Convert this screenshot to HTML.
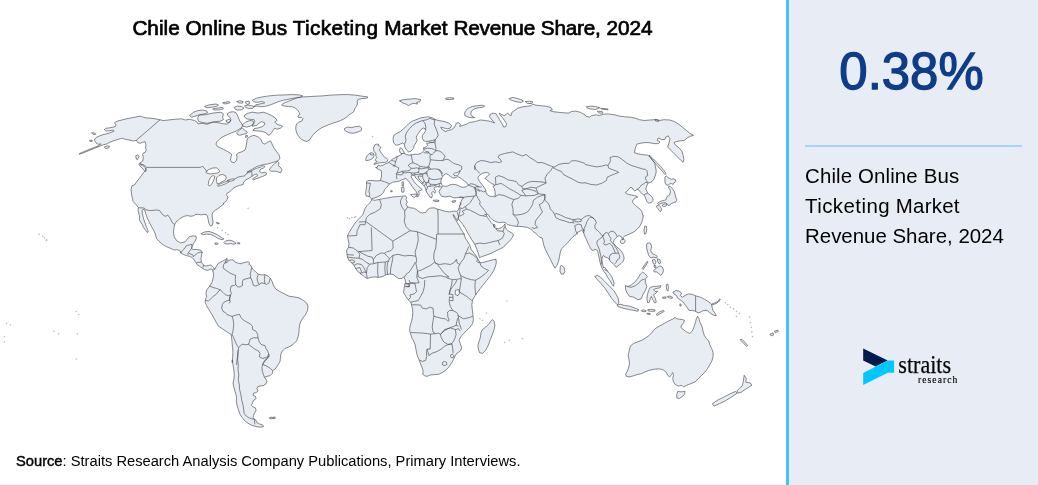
<!DOCTYPE html>
<html><head><meta charset="utf-8">
<style>
html,body{margin:0;padding:0;background:#fff;}
body{width:1038px;height:485px;position:relative;overflow:hidden;font-family:"Liberation Sans",sans-serif;color:#000;}
#left{position:absolute;left:0;top:0;width:786px;height:485px;background:#fff;}
#title{will-change:transform;position:absolute;left:0;top:15.8px;width:785px;text-align:center;font-size:20.77px;line-height:24px;white-space:nowrap;-webkit-text-stroke:0.7px #000;}
#src{will-change:transform;position:absolute;left:16px;top:452.3px;font-size:14.7px;line-height:18px;white-space:nowrap;}
#src b{font-weight:normal;-webkit-text-stroke:0.4px #000;}
#panel{position:absolute;left:786px;top:0;width:249px;height:485px;background:#e8edf5;border-left:3px solid #40c4ff;}
#big{will-change:transform;position:absolute;left:-2px;top:43.2px;width:249px;text-align:center;font-size:50.9px;line-height:58px;color:#0d3c8a;-webkit-text-stroke:1.3px #0d3c8a;}
#hr{position:absolute;left:16px;top:145px;width:217px;height:2px;background:#9fd8f7;}
#desc{will-change:transform;position:absolute;left:16px;top:160.5px;font-size:20.45px;line-height:30px;color:#000;}
#map{position:absolute;left:0;top:0;}
#logo{position:absolute;left:0;top:0;}
</style></head><body>
<div id="left">
<svg id="map" width="786" height="485" viewBox="0 0 786 485"><!--MAP--><path d="M159.9,119.9 155.8,118.9 150.9,118.2 145.9,117.9 142.6,116.9 140.1,116.2 136,116.9 131.1,117.9 126.1,118.9 121.2,120.2 117,121.2 114.6,122.8 115.9,124.8 115.4,126.5 113.2,127.1 109.6,127.8 105.5,128.4 104.3,129.8 106,131.1 109.6,130.7 113.2,130.1 114.2,131.1 111.3,132.4 107.1,133.7 103,134.7 99.4,136 96.4,137.3 94.8,139 94.4,140.6 95.7,142 96.4,143.3 98.4,144.3 101,143.9 98.9,145.6 93.1,147.9 86.5,150.5 79.6,153.5 79.1,154.2 82.4,153.2 88.2,150.9 94.8,148.2 100.5,145.9 103.8,144.6 107.1,143.9 109.6,142.3 113.2,141 117,139.7 120.3,138.7 122.5,138.3 125.3,139.3 127.8,139.7 131.1,140.3 133.5,141 136.3,140.3 137.7,142.6 140.1,143.3 142.6,142.3 145.1,141.6 145.9,144.6 145.6,147.9 146.2,150.4 145.1,152.5 143.4,152.9 142.6,154.5 143.4,157.8 142.6,161.1 140.1,162.8 141,165.1 143.4,164.7 146.7,167.4 145.6,170.2 143.4,172.7 141.8,175.1 139.3,178.4 136.8,181.7 134.4,185 131.9,185.7 131.1,189.9 131.5,194 132.3,198.1 133.1,201.4 134.8,203.4 136.4,205 138.4,207.7 138.1,210.5 138.9,213.8 139.7,217.1 139.4,219.6 140.5,222 142.2,224.5 143.8,227.8 145.5,230.3 147.1,232.4 148.3,231.9 147.6,229.5 146.3,226.5 145,222.9 143.8,219.6 143,216.3 142.3,213.3 142.2,210.5 143,209.3 144.7,210 145.5,213 146.6,216.3 148,219.6 149.6,222.9 151.3,226.2 153.2,229.5 154.9,232.8 155.9,236.1 156.5,238.5 158.7,241 161.5,243.5 164.5,245.6 167.8,247.3 171.1,248.6 174.4,250.1 176.8,249.6 179.3,250.6 181.8,252.2 179.9,252.3 183.2,254.4 186.5,255.6 189.8,256.4 192.3,257.7 193.9,259.7 195.6,262.2 197.2,264.7 199.7,266.3 202.2,268.3 204.7,269.6 207.1,270.4 209.6,269.6 211.3,268.8 212.6,270.4 213.2,272.1 213.7,275.4 212.9,278.7 212.1,282 210.4,285.3 208.3,287.8 206.6,290.2 206,293.5 206.6,296.8 205.5,299.3 205.2,302.3 206.5,305.6 209,309.8 211.5,313.9 213.9,318 216.1,322.1 218.1,325.9 222.2,328.7 227.1,332 231.3,334.5 231.6,337.8 232.1,342.8 232.6,347.7 232.9,352.7 232.6,357.6 232.2,362.6 232.3,359.9 233,364.9 233.8,369.8 234.3,374.8 233.8,379.7 233,383 233.8,387.1 235,391.3 236,394.6 236.6,397.9 236.3,401.2 237.1,405.3 238.3,409.4 239.6,413.5 241.6,416.8 244.2,420.1 247,422.6 250.3,424.6 253.6,425.9 256.9,426.7 260.2,427.2 263.5,426.7 262.7,425.1 259.4,423.9 256.9,422.6 255.8,420.1 254.1,419.3 253.1,417.7 253.6,415.2 254.8,412.7 256.1,410.2 255.3,407.8 253.1,406.9 251.5,405.3 252.5,402.8 253.6,400.3 256.1,398.7 255.3,396.2 253.1,395.4 253.6,393.2 256.1,392.6 258.1,390.9 256.9,388.8 257.8,386.6 260.2,386 263.5,385.5 266,383.8 266.8,381.4 265.7,378.9 264.4,377.2 266.8,376.4 270.1,375.6 272.6,373.1 272.6,370.6 275.1,369 277.6,365.7 280,361.6 280.4,358.4 280.8,354.3 282.4,351 284.9,348.5 289,346.9 293.1,344.4 296.4,341.1 298.1,337 298.9,332.9 299.2,328.7 299.7,324.6 300.9,321.3 303,318 305.5,314.7 307.5,310.6 308,306.5 306.8,303.2 303.9,300.7 298.9,297.9 294,296.9 289,296.2 284.9,294.1 279.9,291.6 275.8,289.1 273.3,285 272,281.2 270.3,278.2 268.2,276.2 264.9,274.6 261.6,274.9 258.3,274.2 255.8,272.1 253.3,269.6 251.7,267.6 250.9,265.5 248.9,264.3 249.5,263 248.4,261.7 245.9,262.2 242.6,263 240.1,263.8 237.7,263 235.2,262.2 233.5,260 231.1,259.7 228.6,260.5 226.9,262.7 225.3,263 226.1,261.7 227.8,259.7 226.9,258.4 225.3,259.7 222.8,261 220.3,262.2 217.9,263.8 215.9,267.1 214.6,269.6 213.7,267.6 212.1,266 210.4,265 208.3,265.5 205.5,266 203,264.7 201.4,262.2 201,258.9 201.4,255.6 202.2,252.3 200.5,250.1 197.2,249.5 193.1,249.5 191.5,248.5 192.3,246.5 193.1,244 194.8,241.6 196.4,238.3 196.1,236.3 193.1,235.8 189.5,236.6 187.3,239.1 184.9,241.9 180.7,242.9 176.6,240.7 174.1,236.6 173.5,231.9 174,227.8 174.7,224.5 176,222 178.5,219.9 181,217.9 184.3,216.3 187.6,215.6 190.9,216.3 194.2,215.6 195,214.6 197.5,214.3 200.8,214.9 204.1,214.3 206.5,214.6 207.4,216.3 208.2,219.6 209,223.7 210.7,226.2 212.3,225.3 213.1,222 212.3,217.9 212,214.6 213.1,212.1 215.6,210 219.7,207.2 223.9,203.9 223,203.6 225.5,201.9 227.1,199.5 228,197 226.6,195.3 227.1,193.2 229.3,192 231.3,190.4 233.2,188.2 236.2,186.6 239.5,185.4 243.1,184.6 243.6,182.1 246.1,179.7 249.4,178 251.9,176.4 254.4,174.7 256.8,173.9 257.7,175.5 255.2,177.2 252.4,178.8 253.5,180 256,178.8 259.3,177.7 262.6,176.4 265.9,175 266.7,173.1 264.3,172.2 261.8,173.1 259.3,171.4 261,168.9 263.4,168.1 265.1,166.5 262.6,165.6 260.1,167.3 256,168.4 251.9,170.6 246.9,172.2 251.1,169.8 256.8,166.5 263.4,164.5 267.6,164 271.7,162.8 275.8,161.5 278.3,160.7 279.9,158.2 279.1,154.9 276.6,151.6 274.2,148.3 272.5,145 270.5,140.8 268.1,141.9 264.8,144.1 262.3,142.8 261.1,139.5 258.2,137 254,135.3 250.2,136.5 247.4,138.6 246,146.9 244.9,150.2 241.6,151.8 238.3,153 236.6,154.3 237.1,157.6 236.1,160.9 234.2,162.6 231.7,162.2 230.5,160.1 230.9,157.6 231.7,154.3 230,153 226.7,151 223.4,149.4 220.1,147.7 217.3,146.4 216,144.1 216.8,141.9 220.1,138.6 223.4,136.5 227.6,134.5 231.7,132.9 235.8,131.2 239.1,129.2 242.2,127.2 242.4,125.3 241.3,123.1 239.7,120.9 238.6,118.2 237.5,115.5 235.9,112.7 233.1,111.7 229.9,112.2 227.1,113.8 227.7,115.5 229.9,117.1 231,119.8 229.3,122.6 227.1,124.2 222.8,123.7 217.7,122.6 212.7,122.1 206.9,124.3 202.8,123.3 197.9,123.8 197,122.1 194.6,120.5 189.6,119.3 185.5,120 181.4,118.8 174.8,119.3 168.2,120 163.2,120.6 159.9,119.7ZM139.3,163.6 142.6,164.7 145.1,167.7 146.2,171 145.1,171.8 142.6,168.5 140.1,166.1 139,164.4ZM200.8,233.6 204.9,231.9 209,231.4 213.1,232.8 217.3,234.7 221.4,237.4 223.9,239 222.2,239.7 218.1,238.5 214.8,236.4 210.7,234.4 206.5,234.1 202.4,234.7ZM223.9,242.7 225.5,241 228.8,240.2 232.1,240.7 234.6,242.3 236.2,243.5 233.8,244.3 230.5,243.6 227.2,244 224.7,243.6ZM214.8,243.2 216.9,242.8 218.3,243.8 216.4,244.5 215,244.1ZM237.6,242.8 239.7,242.8 239.9,243.8 237.7,243.8ZM216.4,222.5 218.9,222.9 219.2,223.8 216.9,223.7ZM269.2,169.8 271.7,166.5 275,163.2 277.5,161.5 279.1,162.8 278.3,165.6 280.4,167.3 282.1,169.8 280.8,172.7 278.3,172.2 275.8,171.1 273.3,171.4 270.9,171.1ZM189.6,115.5 193.7,112.2 197.9,110.6 202.8,110.1 206.9,111.1 207.8,112.7 204.5,113.9 199.5,114.7 194.6,116.4 191.3,117.2ZM197.9,117.2 199.5,115 206.1,114.7 211.1,113.4 216,112.7 221,112.2 223.4,113.9 222.6,117.2 223.4,119.7 220.1,121.3 215.2,121.6 211.1,122.6 206.9,123.3 202.8,122.6 198.7,121.6 197.9,119.7ZM204.5,106.5 209.4,104.8 216,104 218.5,105.1 216,106.5 211.1,107.3 206.9,107.8ZM212.7,108.9 217.7,108.1 222.6,107.3 223.4,108.9 219.3,109.8 214.4,110.1ZM222.6,102.8 229.2,101.5 230,102.8 225.1,104ZM225.9,120.5 229.2,119.3 230.9,120.5 229.2,122.6 226.7,122.1ZM234.2,107.3 237.5,106.1 241.6,106.5 244.1,108.1 241.6,109.8 237.5,110.1 235,108.9ZM236.6,101.5 239.9,100.7 243.2,101.5 242.4,103.2 238.3,102.8ZM245.7,101.5 249,101.2 249.8,103.5 247.4,104.5 245.7,103.2ZM236.6,132.9 239.9,129.6 242.4,128.2 244.9,130.4 247.4,132 246.5,133.7 243.2,134.2 239.9,135.3 237.5,134.5ZM245.4,135.8 247.4,135.3 247.4,137 245.7,137.5ZM244.1,115.5 247.4,113.4 252.4,112.2 258.2,113.1 263.1,112.2 267.2,113.4 271.4,115.5 275.5,118 277.1,120.5 274.7,122.1 277.1,124.3 280.4,125.4 282.6,126.3 280.4,128.2 277.1,129.2 274.7,128.2 273,130.4 271.4,132.9 269.4,135.3 267.2,134.5 266.4,132.9 263.9,132 260.6,131.2 256.5,130.9 252.9,130.4 254,128.7 258.2,127.9 262.3,126.6 264.8,124.6 264.4,122.6 261.5,121.6 258.2,123.8 256.5,125.4 252.4,126.3 252.9,123.8 254.9,121.6 254,119.7 249.9,119.3 246.6,118.8 244.6,117.2ZM242.4,124.6 245.7,122.1 249.8,120.5 253.1,121 254,123.8 250.7,125.9 246.5,127.1 243.2,126.3ZM252.4,100.2 256.5,98.2 262.3,96.9 268.9,95.9 276.3,95.2 284.6,94.9 292.8,94.6 299.4,94.9 302.7,95.9 300.2,97.2 295.3,97.9 289.5,99 283.7,100.2 278.8,101.5 274.7,103.2 270.5,104.8 266.4,106.1 261.5,106.8 257.3,106.1 254,106.5 255.7,104.8 259.8,104 264.8,102.8 262.3,101.5 257.3,102.3 254,101.8ZM282.9,103.5 287.9,101.5 292.8,99.5 296.9,97.9 302.7,96.9 309.3,96.6 315.9,96.2 322.5,95.9 329.1,95.2 335.7,94.9 342.3,94.6 348.9,94.6 355.5,95.2 362.1,96.2 367.9,96.9 367.1,98.2 362.1,98.5 358,99.5 357.2,101.5 357.5,104 356.3,106.5 354.7,108.9 353.9,111.4 351.4,113.4 348.9,115 346.4,117.2 344,118.8 340.7,120.5 336.5,122.1 332.4,123.3 328.3,124.9 324.2,126.6 320.9,128.2 317.6,130.4 315.1,132.9 312.6,135.3 311,137.8 309.3,140.3 306.8,141.4 304,140.8 301.4,139.1 299.1,137 297.4,134.5 296.4,132 295.8,129.2 295.8,126.3 296.9,123.8 298.6,122.1 301.9,121 303,118.8 301.4,117.2 298.6,117.7 297.8,116 299.7,114.7 299.1,112.2 297.4,109.8 295.3,108.1 292.5,106.8 288.7,106.5 284.6,106.1 281.6,105.1ZM344.3,128.7 347.3,127.1 351.4,127.6 355.5,126.6 359.6,126.3 361.8,128.2 361.3,130.4 358,132 353.9,133.2 349.7,132.9 346.4,131.5 344.8,130.4ZM269.3,417.7 271.8,417 272.6,418.3 270.1,419ZM272.6,417.3 275.1,417 275.2,418.3 272.9,418.6ZM396.1,145.3 393.6,142.9 393.1,138.7 393.6,135.4 396.9,133.3 400.2,131.6 403.5,128.8 406,126.4 408.5,123.9 411.8,121.4 415.9,119.8 420,118.1 424.2,117.3 428.3,116.8 432.4,117.8 434.9,119.4 439,120.6 444,121.4 448.9,123.1 451.4,125.5 450.6,128 447.3,128.8 444,128 440.7,127.2 442.3,129.7 445.6,131.6 448.1,130.5 451.4,129.7 453.9,128 455.5,125.5 456.3,123.1 458.8,122.7 460.5,124.7 459.6,126.4 462.9,125.5 467.1,123.9 470,122.2 471.5,122.2 475.6,121.4 480.6,120 485.5,120.5 490.5,121.4 494.6,123 492.1,120 489.7,117.2 490,114.4 493,113.1 496.3,113.9 497.6,116.4 499.6,119.7 502,123.8 503.7,127.1 505.8,126.6 506.5,123.8 504.5,120.5 502,117.2 499.6,114.4 499.2,113.1 502,114.8 504.5,115.6 507.5,113.1 509.5,114.8 511.1,115.6 511.9,112.3 514.4,110.6 517.7,108.2 522.7,106.8 527.6,106.2 531.2,105.7 532.6,104 535.9,105.2 540.8,105.7 545.8,106.2 550.7,107.3 552.4,109.5 549.9,110.6 554,111.8 559,112.3 563.9,112.8 568.9,113.1 571.3,111.5 575.5,111.1 580.4,112.3 585,114.8 585.7,116.1 589.9,117.2 591.5,115.6 596.5,114.8 599.8,115.6 602.2,114.4 608,113.9 614.6,114.8 619.6,116.1 624.5,116.7 630.3,117.2 635.2,118.1 639.4,119.7 644.3,120.5 650.1,120 655,119.7 659.2,120.5 664.1,119.7 669.9,120 674,121.4 678.1,123.8 682.3,127.1 686.4,130.4 689.7,133.2 693.5,135.4 690.5,136.2 687.2,137.9 684.7,140.3 680.6,140.8 676.5,141.5 674,142.5 675.7,145.3 679,147.8 681.9,151.1 683.1,155.2 683.9,159.3 683.1,162.3 680.6,160.1 677.3,156.8 674,153.5 670.7,150.2 667.7,146.9 669.1,142.8 669.9,138.7 668.2,135.9 665.8,137 664.9,139.5 661.6,139.5 658.3,137.9 657.2,140.3 660,142 658.3,143.6 654.2,143.6 650.1,142.8 646,142.5 641,143.1 636.9,144.1 635.2,148.6 634.4,152.7 638.5,154 643.5,154.7 647.6,155.2 650.1,156.8 652.6,160.1 655,163.4 655,164.9 656.1,170 656.1,172.8 655.1,176 653.8,179.3 651.9,181.6 649.9,182.5 648,183 647.3,184.8 646.2,187.2 645.9,189 646.8,191.2 647.7,193.2 650,195 652.4,197.4 653.3,200.1 651.4,202.5 648.7,203.2 646.8,201.5 645.6,198.3 644.5,195.5 642.6,194.3 641.2,192.7 639.8,191.5 638.5,189.9 637.1,189.5 634.7,190.9 633.3,189.9 632.4,188.1 631,187.2 629.2,188.6 627.3,190.9 625.5,192.3 626.4,193.7 628.7,194.6 631.5,194.9 634.3,195.5 637.1,196.4 637.5,197.4 635.7,197.8 633.8,199.2 632.4,201.1 633.3,203.4 635.7,205.7 638,207.6 640.3,209.4 641.7,211.3 642.4,213.6 642.6,215 643.3,215 642.9,218.3 641.8,222.1 640,225.9 637.2,229.2 634,231.9 630.1,233.8 626.9,235.2 624.1,236.3 623.1,237.4 623.6,239 622.5,239.6 621.4,236.8 619.2,235.7 617.6,236.3 615.4,238.5 613.8,240.7 613.2,242.8 614.9,245 617,247.2 619.8,249.4 622,252.1 623.6,255.4 624.1,258.7 623.1,261.4 620.9,263.6 618.1,265.8 616,267.4 614.9,265.8 613.2,263.6 611.6,262.5 609.9,260.9 608.9,258.7 607.2,257.6 605,257 603.6,255.4 602.3,257 601.8,259.8 602.3,263.1 603.2,266.3 603.6,268 604.5,267 607,270.3 609.5,273.6 611.9,276.9 613.1,280.2 614.1,283.5 613.6,286.3 611.9,284.3 610.3,281 607.8,277.7 606.2,274.4 603.7,271.1 601.5,267 600.7,264.7 599.9,261.4 599.2,258.1 598.5,254.9 597.7,251.6 596.8,249.9 595.2,249.4 593,250.5 591.4,249.7 589.7,246.7 588.1,243.4 586.5,239.6 584.8,236.3 584,233.6 583.2,231.4 581.6,230.3 579.4,231.4 577.2,232.5 576.1,234.7 575,235.2 574.8,235.1 572.3,237.3 569.9,240.1 566.9,243.4 564.1,246.4 561.6,248.8 560.3,252.1 559.6,256.3 558.6,261.2 557,265.3 555,268.1 552.9,264.5 550.5,259.6 548,254.6 545.5,249.7 543.9,245.5 543,241.4 542.2,238.1 539.7,237.3 538.1,235.6 535.6,233.2 533.1,231.5 530.7,229 527.4,227.4 522.4,226.6 520,226.4 516,226.4 511.7,225.6 507.4,224.6 505.5,222.7 503.1,222.1 499.4,222.7 495.6,221.5 492.6,219.9 490.1,217.4 488.2,214.7 487.6,214.1 486.4,214.7 486.4,215.3 487.6,217.8 489.5,220.2 491.3,222.7 493.2,224.6 493.8,226.4 495.6,228.3 498.1,228.9 501.2,227.7 503.7,225.8 504.9,223.9 505.3,226.4 506.2,228.9 508,230.7 511.1,232.6 513.6,234.5 512.3,237.6 509.9,240.6 507.4,243.1 505.5,245 503.4,247.2 499.3,249.3 495.2,251.3 491.1,253.3 486.9,254.9 482.8,256.3 479.5,257.6 478.7,254.6 477,249.7 475.2,245 474,243.1 471.5,239.4 469.4,235.7 467.2,232 465.3,228.3 462.9,224.6 460.4,221.5 458.3,219 458.5,216.5 458.1,218.4 457.6,220.9 456.7,219.9 455.5,217.8 453.8,215.3 453,214.4 453.8,216.9 455.5,219.6 457.3,222.7 459.8,227 462.3,231.4 464.1,234.5 465.3,238.2 467.8,241.9 469.7,245 471.3,249.7 474.2,253.3 477,257.1 478.2,259.6 479.5,262 481.2,262.9 484.5,262 488.6,260.9 492.7,259.9 496,259.2 496.3,262.9 495.2,267 493.5,271.1 490.2,276.1 486.9,280.2 483.6,284.3 480.3,288.4 477.9,291.7 475.4,295 475.1,295.7 472.6,299.8 471.8,304.8 472.3,309.7 472.9,314.7 473.4,319.6 472.6,323.7 470.1,327 466.8,330.3 463.5,333.6 460.7,336.9 459.1,340.2 460.2,343.5 461.4,346.8 461.4,349 459.7,351.5 456.9,353.2 455.3,355.6 453.6,359.4 451.5,363.1 448.7,367.2 445.4,370.5 442.1,372.6 438.8,374.3 434.7,374.6 430.5,374.9 427.2,376.3 424.8,375.9 422.8,374.3 423.1,371.3 422.3,368 420.6,363.9 419,359.8 417.3,355.6 416.2,350.7 415.2,344.9 413.2,340 412.4,339.4 411.6,336.9 410.2,332.8 409.6,329.5 410.2,325.4 411.6,321.3 412.4,317.1 412.9,313 412.4,308.9 411.6,304.8 410.7,302.3 408.3,299.8 405.8,296.5 403.6,292.4 404.1,288.3 405,283.3 405.6,282.7 405.1,279.4 403.5,276.9 401.8,278.5 398.5,278.5 396.1,276.9 393.6,274.7 390.3,274.1 386.2,274.7 382.9,276.4 378.7,277.4 374.6,276.9 370.5,277.4 367.2,278.5 364.7,276.9 361.4,274.4 358.1,271.9 355.6,268.6 354,265.3 351.5,262.9 349,260.4 347.4,257.1 346.9,253.8 346.6,250.5 348.5,247.2 349,243.9 348.2,239.8 347.4,236.1 349.3,232.1 351.6,228.4 353.9,224.7 356.7,221 359.5,218.2 362.7,214.9 363.9,211.7 365,208.5 366.9,205.7 369.7,202.9 371.5,200.4 371.4,199.5 374.7,200.3 378.8,199.5 382.9,198.7 387.9,197.9 392.8,197 397.8,196.5 401.9,196.2 405.2,195.9 406.8,197 406,199.5 407.3,202 406,204.5 407.7,206.9 410.1,207.8 413.4,208.1 416.7,209.7 419.2,211.9 422.5,213 425.8,212.4 427.5,209.7 429.9,208.1 434.1,207.8 437.4,209.1 441.5,210.2 445.6,211.4 449.7,211.9 453.9,211.1 456.3,211.4 458,210.7 459.1,207.8 460.1,204.5 461.3,201.2 462.4,198.7 463.8,197.9 461.3,197 458,197.5 453.9,197.9 449.7,196.2 445.6,197 441.5,196.2 439.8,193.7 439,191.3 440.7,188.8 442.3,186.6 439.8,187.1 437.4,186.6 434.9,187.1 434.1,188.8 435.7,191.3 434.9,193.2 433.2,191.3 431.6,192.9 432.4,195.4 431.6,197.9 429.9,197 428.3,194.6 426.6,192.1 425.8,189.6 425,187.1 423.3,185 420.9,183 418.4,180.5 415.9,178.1 414.6,175.6 412.6,174.8 411,176.1 411.8,178.1 413.4,180.5 415.1,183 417.6,185.5 420,187.6 422.2,189.6 420.9,190.4 418.4,191.3 419.2,193.2 418.9,195.9 416.7,197 417.6,194.2 415.9,191.3 412.6,187.1 409.3,182.2 406,178.4 402.7,179.4 399.4,181 396.1,181.7 392.8,182.2 389.5,183.8 387,187.1 384.6,189.6 383.7,192.1 381.3,194.9 377.1,197 373.8,198.2 371.4,198.7 369.4,196.5 366.4,196.2 365.6,193.7 366.1,189.6 366.7,185.5 366.4,181.7 368.1,180.5 372.2,180.5 377.1,181 380.4,180.5 381.3,177.2 381.6,173.9 381.3,170.6 378.8,169.5 375.5,167.3 377.1,167.6 378,165.1 380.4,166 383.2,165.1 386.2,163.5 388.7,162.7 390.3,161 392.8,159 395.3,157.7 397.8,156.4 400.2,155.2 401.9,154.1 400.2,152.8 399.4,150.3 400.2,147.8 401.9,148.6 403.5,151.1 404.4,153.6 406.8,154.7 409.3,155.2 412.6,154.7 415.1,154.1 417.6,154.4 420.9,153.6 422.5,151.9 424.2,150.3 423.3,147.8 425.8,147 427.5,145.3 426.6,143.2 429.9,142.9 433.2,142 435.7,139.6 432.4,140.4 429.1,141.2 425.8,141.5 423.3,140.4 422.2,137.9 422.5,135.4 424.2,133 425.8,130.5 425,128.8 423.3,128 420.9,129.7 419.2,132.1 417.6,134.6 416.2,137.1 417.2,140.4 415.9,142.9 414.3,145.3 413.4,148.6 411,151.1 408.5,151.9 406.8,150.3 405.2,147.8 404.4,144.5 402.7,142.9 399.4,144.5ZM399.4,100.8 403.5,99.6 409.3,99.1 415.1,98.6 420.9,99.6 420,101.6 416.7,102.4 417.6,104.1 414.3,103.3 411,104.1 408.5,105.7 406,104.1 402.7,102.9ZM445.6,98.3 449.7,97.6 453.9,98 453.5,99.3 448.9,99.5 445.9,99.3ZM374,146.7 374.9,144.8 376.8,144.1 378.7,144.4 378.2,145.8 379.6,146.2 380.8,147.2 380.2,148.6 379.3,149.9 380.5,151.8 381.9,153.7 383.3,155.5 384.7,157.4 386.5,158.3 387.7,159.5 387.5,161.1 386.1,162 384.2,162.5 381.9,162.7 379.6,162.9 377.7,163.2 375.9,163.9 374,164.5 374.5,163.4 376.3,162.3 377.3,161.4 375.9,161.1 374.9,160.1 375.9,158.8 376.8,157.6 376.2,156.4 375.6,155 376.2,153.7 374.9,152.7 374,151.3 373.6,149.5 373.4,148.1ZM365.7,160.1 366.1,157.8 366.9,156 368.5,154.3 370.3,153 372.2,152.7 373.6,153.7 374,155.5 373.4,157.4 372.2,158.8 370.3,159.7 368,160.4 366.1,160.8ZM401.9,182.2 403.2,181.7 403.7,183.8 403.4,186.3 402.2,186ZM401.4,187.6 403.7,187.1 404.2,189.6 403.7,192.2 401.7,192.1ZM410.6,194.6 413.9,194.2 416.7,193.9 416.2,195.9 414.6,197.5 412.3,196.5ZM433.2,200.3 436.5,200 439,200.5 438.7,201.5 434.9,201.5ZM451.9,201.2 455.5,200.5 455.2,202.1 452.5,202.5ZM390.5,190.9 392.1,190.6 392.3,191.6 390.8,191.9ZM464.9,115.6 464.6,113.1 465.7,110.6 468.2,108.2 472.3,106.5 477.3,105.7 482.2,105.2 484.7,106.2 482.2,107.3 478.1,107.8 474,109 471.5,111.1 470.7,113.9 472.3,116.4 474.8,117.7 471.5,117.7 468.2,117.2ZM509.1,98.6 512.8,97.4 516.9,98.3 521,99.6 523.5,101.2 521,102.4 516.9,101.9 512.8,100.7 510.3,99.9ZM525.1,101.6 529.3,101.2 532.9,101.9 531.7,103.5 527.6,103.5ZM586.2,106.8 590.7,106.2 595.6,106.5 599.8,107.8 595.6,109.5 590.7,109 587.4,108.2ZM600.6,108.2 608,109 608,109.8 601.4,109.1ZM597.3,111.1 602.2,111.5 603.1,113.1 598.9,113.1ZM655,119.4 658.3,119.7 658.8,121.4 655.5,121ZM649.3,155 652.6,158.3 656.7,162.4 660.8,166.6 664.1,170.7 666.1,173.5 664.9,174.5 662.5,171.5 659.2,167.9 655.9,164.1 652.2,160 649.6,156.7ZM664.9,177 666.3,176 668.6,177.9 671.4,179.3 673.7,178.8 675.6,179.7 675.8,181.6 674.2,182.5 673.2,184.4 671.4,183.5 669.5,183.9 668.1,185.3 666.3,184.8 665.1,183 664.9,180.2ZM668.6,186.2 670.5,186.7 672.3,188.6 674.2,191.3 675.1,194.6 676,197.8 676.8,200.1 675.6,202 673.7,202.7 671.4,203.4 669.5,205.4 668.1,205.3 667.2,203.9 665.8,202.9 663.5,202.7 661.6,203.2 659.8,203.9 658.4,204.5 657.5,203.4 659.3,202 661.2,201.1 663.5,200.4 665.8,199.9 666.6,197.8 667.2,196.4 669.1,195.5 670,193.7 670.5,191.3 669.5,189 668.6,187.6ZM656.4,206.2 657.9,205.3 659.5,205.7 660.7,207.1 661.6,209 661.2,210.8 660.1,211.7 659.1,210.4 657.9,208.5 657,207.6ZM662.6,204.8 664.4,203.9 666.3,204.1 666.9,205.3 665.4,206.4 663.5,206.6 662.3,206ZM644.6,226.3 646.3,226 646.8,229.3 646,233.4 644.6,234.2 644,230.9ZM620.6,240.7 622,239.2 623.9,239.2 625.2,240.7 624.7,242.5 623.1,243.6 621.4,243.2 620.3,242.1ZM560.3,266.2 561.9,265.3 564.1,267.8 564.9,271.4 563.6,274.1 561.3,274.1 560,271.1ZM646.6,243.9 649.1,242.7 651,243.9 651.5,247.2 650.7,250.5 652.4,253.8 654.8,254.6 657.3,256.3 656.5,257.9 653.2,257.1 650.7,257.9 648.7,255.4 647.7,252.1 646.6,248ZM642.1,268.6 644.9,264.5 647.4,261.2 647.7,262.5 645.4,266.2 643,269.5ZM652.4,259.9 654.8,259.6 656,262 654.8,264.5 653.2,263.7ZM657.3,258.7 659.8,259.6 660.6,262.9 659,263.7 657.6,261.2ZM654,265.3 656,265.8 655.7,267.8 654,267ZM653.7,270.3 656.5,268.1 659.8,265.8 662.3,267 663.6,270.3 662.6,273.6 660.6,275.2 658.6,273.6 656.5,271.9 654,271.9ZM594.6,276.6 597.4,275.3 600.7,277.4 604,280.7 607.3,284 610.6,287.3 613.9,290.6 616.4,294.8 618.4,298.9 618.9,303 617.2,304.7 614.8,302.2 611.5,298.1 608.2,293.1 604.9,288.2 600.7,283.2 597.4,279.6ZM617.2,305 620.5,304.3 624.7,305.5 628.8,306 632.1,307.1 635.4,308.3 638.7,309.6 637.9,311.3 633.7,310.4 629.6,309.6 625.5,308.8 621.4,307.6 618.1,306.6ZM641.2,310.4 643.6,309.9 646.1,310.6 645.8,311.7 642,311.6ZM647.8,309.6 651.4,309.3 655.2,309.9 654.7,311.3 650.2,311.3 648.1,310.9ZM646.9,313.2 650.2,313.6 650.1,314.6 647.3,314.2ZM656,314.6 659.3,312.1 663.4,310.4 664.3,311.3 661,313.2 657.3,315.4ZM625.5,285.7 628,286.5 631.3,284.9 634.6,282.4 637.9,278.3 640.3,274.1 642.8,272 645.3,274.1 647.4,276.6 645.3,279.1 645.3,282.4 646.9,286.5 645.3,290.6 642.8,294.8 641.2,298.9 637.9,299.7 633.7,297.2 629.6,296.4 627.1,293.1 625.5,289ZM650.2,287.3 653.5,286.5 657.7,286.2 661,285.7 660.1,287.8 656,288.5 653.5,289.5 655.2,291.5 657.7,291.1 656,293.1 653.5,294.8 655.2,298.1 656.3,302.2 654.7,303 652.7,299.7 651.4,296.4 650.2,298.9 649.4,302.2 647.8,303 646.9,298.9 647.4,294.8 648.6,290.6ZM666.2,284.9 667.9,284 668.5,287.3 667.9,291.1 666.7,289.8ZM662.6,297.2 665.9,296.9 666.1,298.1 662.9,298.4ZM667.2,296.4 670,296.1 672.5,297.2 672.2,298.4 668.4,297.7ZM672.8,292.3 675.8,290.6 679.1,291.1 681.6,293.1 680.4,295.6 682.4,297.2 684.9,295.6 688.2,293.9 692.3,294.4 696.4,296.1 700.6,297.2 704.7,299.4 708,301.4 711.3,303.8 712.1,307.1 712.9,310.4 715.4,313.7 716.2,315.9 712.9,314.9 709.6,312.6 707.2,310.4 703.9,310.4 700.6,312.1 698.1,312.9 695.6,311.3 692.3,310.4 689,310.4 687.4,308 685.7,305.5 683.2,302.2 679.9,299.7 677.5,298.1 676.6,295.6 674.5,294.4ZM712.1,303.8 714.6,303 717.9,301.4 719.7,298.9 720.4,299.4 718.4,302 714.9,304 712.4,305ZM679.9,303.8 681.1,304.2 680.9,306.3 679.9,306ZM630.4,345.9 633.7,343.4 637.9,341.8 642,340.1 646.1,337.7 649.4,335.2 651.9,332.7 653.5,330.2 656,328.1 659.3,326.1 662.6,324.5 665.1,322.8 667.6,321.5 670,320.3 672.5,319.2 675,317.5 676.6,318.7 679.1,319.2 682.4,319.5 684.4,320.3 683.7,322.8 681.6,325.3 680.8,327.4 683.2,329.4 686.5,331.9 689.8,333.5 692.3,331.1 694,326.9 695.3,322.8 696.4,318.7 697.6,316.2 698.9,318.7 700.2,322.8 702.2,326.9 703,331.1 704.2,335.2 706.3,338.5 708.7,340.7 709.8,344.9 711.5,348.2 713.1,352.3 713.1,356.4 712,360.5 709.8,364.7 707.4,368.8 704.9,372.1 701.6,375.4 698.3,378.7 695,382 690.9,383.6 686.7,385.3 683.4,386.9 681.8,385.3 678.5,386.1 675.2,384.5 673.5,382 672.7,378.7 673.5,375.4 672.7,372.6 671.4,374.6 669.7,377 667.8,375.4 666.1,372.1 662.8,369.6 658.7,368.8 653.7,369.3 648.8,370.4 644.7,372.1 641.4,373.7 637.2,374.6 633.1,375.9 629,377 626.2,376.2 625.7,373.7 627.3,371.3 628.5,368 629.5,363.8 629,359.7 628.2,355.6 629,351.5ZM677.7,391.4 681,391.9 685.1,391.4 684.6,394 682.6,396.3 679.3,398.5 676.8,398 676.8,394.4ZM744.2,375.3 746.3,378.4 745.7,382.1 750.4,383 751.9,385.2 748.2,387.6 744.2,390.1 741.1,392.3 738,393.2 737.1,390.7 739.5,388.3 742,386.1 743.3,381.5ZM712.3,403.7 717.9,400 724.1,396.9 730.2,393.8 735.8,391.4 737.1,393.2 731.8,396.9 725.6,400.7 719.4,403.7 714.1,406.2ZM740.2,339.7 742,339.3 747.6,345.2 746.7,346.5ZM769.9,334.1 773,332.8 773.6,335 771.1,335.9ZM774.2,331.3 777.9,330.1 778.2,331.6 775.1,332.5ZM492.4,319.6 494.1,321.3 494.9,325.4 494.1,329.5 492.4,334.5 490.4,339.4 488.3,345.2 485.8,350.1 482.5,353.4 479.5,352.6 478.4,349.3 477.9,345.2 479.2,341.1 480.5,336.9 480.9,332.8 482.5,329.5 485.8,327 489.1,323.7 491.1,320.9ZM450.8,354.8 452.5,354.1 453.8,355.5 453.5,357.3 451.5,357.8 450.5,356.5ZM442.2,362.7 444.2,361.4 446.5,362.2 446.9,364.4 444.9,365.7 442.6,365ZM493.5,224.3 495,224.8 495,227 494,227.3ZM244.6,105.7 247.9,105.1 251.7,105.7 254.4,106.7 252.2,108.4 248.4,108.4 245.7,107.5ZM91.5,132.7 94.8,133.1 95.7,134.4 93.1,134.4ZM89.5,140.3 91.8,140 92.4,141.3 90.1,141.6ZM104.3,147.1 107.1,145.9 109.6,146.3 108.8,147.9 105.5,148.6ZM135.7,155.8 137.7,154.8 139,156.5 137.7,159.5 136.3,159.1Z" fill="#e8ecf3" stroke="#484b50" stroke-width="0.65" stroke-linejoin="round"/>
<path d="M205.7,172.2 208.2,169.8 212.3,168.1 216.4,167.8 218.9,169.8 219.7,171.7 217.2,173.1 213.9,173.4 210.6,173.9 207.3,173.4ZM208.2,184.6 209,180.5 210.6,177.2 213.1,175.5 214.8,176.4 213.9,179.7 212.3,183 210.6,185.4 209,185.9ZM216.4,178 218.9,175.5 222.2,174.4 225.5,175.5 226.3,178 224.7,180.5 222.2,181.6 219.7,183.3 217.2,183.8 216.7,181.3ZM217.2,185.4 220.5,183.8 224.7,182.1 228.8,180.5 229.6,181.6 225.5,183.8 221.4,185.4 218.1,186.3ZM227.1,180.5 230.4,179.3 233.7,178.8 234.2,180 231.3,181 228.3,181.3ZM443.8,175.3 442,177.6 441,179.9 440.8,182.7 441.7,184.6 443.3,185.8 445.2,186.4 447.5,186 449.8,184.9 452.6,184.3 455.4,184.6 458.2,185.5 461,186.9 463.3,187.4 465.6,186.9 467.5,186 468.4,185 467.5,183.7 466.1,182.3 464.2,180.9 462.4,179.5 460.5,178.1 458.7,177.2 457.3,176.7 455.9,177.6 454,178.1 452.2,177.8 450.8,176.7 449.8,175.8 448.5,174.8 446.6,173.9 445.2,173.9ZM453.6,173.9 454.9,173 457.3,172.5 458.7,171.6 459.9,170.7 459.3,172.5 458.7,173.9 457.7,175.3 455.9,175.8 454,175.3ZM478.1,177.2 479.5,175.3 481.4,173.9 483.7,172.8 486.5,172.5 488.8,173.2 489.5,174.4 487.9,175.8 486,177.2 485.1,178.6 486.9,179.9 489.3,181.8 491.6,183.7 493.9,184.3 494.4,185.5 493,186.4 494.4,188.8 495,191.5 495.3,195.7 492.5,196.6 489.7,196.2 487.4,194.8 486,192.5 485.6,189.7 484.2,187.4 482.3,185 480.5,182.7 479.1,180.4 478.1,178.6ZM455.3,290.2 459.1,289.6 459.7,293.2 457.8,295.7 455.3,294.5Z" fill="#ffffff" stroke="#484b50" stroke-width="0.65" stroke-linejoin="round"/>
<path d="M159.9,119.9 136.3,140.3M146.7,167.4 200,167.4 201.6,166.9 202.4,166.1 205.7,169.8 207.3,172.2M234.2,179.3 237.9,177.2 241.2,176.4 244.5,176 246.1,173.9 249.4,172.2 251.9,171.4 251.9,175.5 251.9,176.4M138.4,207.7 144.3,208 145.5,209.7 150.4,210.6 157,210 159.5,210.5 162.5,214.6 165.3,216.3 167.8,215.1 170.2,218.2 172.4,222.9 174.7,224.5M254.5,419.3 254.8,424.3M226.9,258.4 225.3,262.2 223.6,264.7 223.1,268 226.1,270.4 230.2,273.2 233.5,274.6 235.7,275.4 235.2,279.5 235.7,284.5 234.7,285.3 231.1,286.1 230.2,290.2 231.4,293.5 230.2,296 229.4,299.3M235.7,284.5 237.7,286.9 240.1,286.9 242.6,285.3 242.3,282 243.4,279.5 246.7,278.7 250,277.9 250.9,275.4 250,274.6 250.9,271.3 251.7,267.6M258.3,274.2 257.1,277.9 257.5,281.2 259.1,284.5M264.9,274.6 264.4,279.5 264.9,283.6M270.3,278.2 269,282.8 266.5,284.5 264.9,283.6 261.6,282.8 259.1,284.5 255.8,286.1 253.3,285.3 252.5,282 250.9,277.9 250,277.9M205.2,300.2 208.2,301.2 210.6,299 213.1,296.6 216.4,294.1 218.9,290.8 220.5,290 217.2,288.6 213.1,287.5 209,285.8M220.5,290 223,292.4 225.5,294.9 228.8,295.7 230.4,294.9 229.6,299 230.1,300.2 227.1,300.7 223.8,302.3 222.2,304.8 221.7,308.1 223,311.4 225.5,312.7 227.1,314.7 229.6,315.5 232.1,316.4 233.2,319.7 233.7,324.6 233.2,329.6 232.6,332.9 232.1,334.5 233.7,337.8 235.4,341.9 237,345.2 238.7,347.7 237.9,351.8 237.5,356 237,360.1 236.5,365M229.4,299.3 230.2,301.8 229.1,303.4M232.1,316.4 236.2,315 239.5,314.4 240.8,317.2 242.8,319.7 246.9,322.1 250.2,323.8 252.4,326.3 252.7,329.6 256,331.2 257.7,334.5 258,337.8 253.5,337.8 250.2,339.1 249.1,342.8 248.6,344.4 245.3,344.7 242,344.1 239.5,346.9 238.7,347.7M258,337.8 259.3,341.9 261,344.4 265.1,345.7 265.9,348.5 267.6,351 268.9,354.3 269.2,356 265.9,357.6 262.6,358.4 259.3,356.8 260.1,353.5 258.5,351 255.2,349.4 251.9,346.9 248.6,344.4M269.2,356 267.6,358.4 265.1,360.9 263.4,363.4 262.6,365M238.3,350 238,355 237.6,359.9 238.3,364.9 238,369.8 238.8,374.8 238.3,379.7 239.3,384.7 239.6,389.6 240.9,394.6 241.6,399.5 242.9,404.5 243.7,409.4 244.2,413.5 246.2,416 248.7,417.7 252,419 254.5,419M268.5,354.1 267.7,357.4 265.2,359.9 263.5,362.4 262.7,364.5 261.9,367.3 262.4,371.5 263.5,374.8 264.4,377.2M262.7,364.5 266,365.7 270.1,368.2 272.6,370.6M370.3,153.2 370.6,154.6 372.2,155.2 373.6,154.3M627.1,286.5 631.3,287.3 635.4,285.7 638.7,283.2 641.2,280.2 644.5,279.1M695.6,296.1 695.6,311.6M404.4,144.5 406,140.4 405.2,136.3 406.8,132.1 409.3,128.8 412.6,125.5 415.9,123.1 420,121.4 422.5,120.6 425,123.1 425.8,127.2 425.5,130M422.5,120.6 426.6,119.8 429.9,118.4 432.4,119.4 434.9,119.8 434.1,123.9 435.7,128 437.4,132.1 438.2,135.4 436.5,138.2 435.4,139.6M366.4,183 370.5,183.3 369.7,187.1 368.9,191.3 369.7,194.6 369.4,196.5M380.4,180.5 384.6,181.7 389.5,183.8M397,155.9 396.8,158.7 395.9,161 395.3,163.2 394.7,165.8M391.3,160.2 393.6,161 395.5,161.5M388.5,162.1 390.8,163.8 393,165.2 394.5,165.8 397,167 398.7,167.8 398.1,170.6 397,172.9 395.9,174 397,175.1 396.4,176.3 397,179.1M393.4,165.2 393.8,166.3 394.7,165.8M401,153.6 404.4,153.4M411.2,154.5 411.7,157.6 412.3,160.4 412.9,162.7 410,163.8 408.3,165.2 409.7,167.2 411.2,168.3 409.7,170.4 407.2,170.8 404.4,171.2 402.1,171.2 399.8,172.3 397,172.9M412.9,162.7 415.7,163.8 418.5,165.2 420.2,166.3 419.1,167.8 418.5,168.3 416.8,167.8 414,168.3 411.2,168.3M420.2,166.3 423.6,167 427,167.2 428.7,166.6 429.9,162.7 430.4,159.8 429.9,157 430.4,154.2 428.7,153 423.6,152.7M425.3,151.3 428.7,151.9 428.7,153M423.6,149.1 427.6,148.2 431.6,148.5 434.4,149.6 435.5,150.8 433.8,153 432.1,154.7 430.4,154.2M428.7,142 432.1,142.3 435,142.8 435.5,146.2 436.1,148.5 435.5,150.8 438.9,150.8 441.8,152.5 444,154.7 445.2,157 444,158.1 443.3,160.4 438.9,160.6 434.4,160.2 430.4,159.8M435,142.8 435.3,140.6 434.4,140M443.3,160.4 445.2,159.5 448,159.3 450.3,161 452.5,162.7 455.4,164 458.8,164.9 461.6,166.3 461.8,168.9 460.5,170.6 459.3,172.3M418.5,168.3 419.1,170.4 418,172.3 414.6,173.1 411.2,172.9 408.3,172.3 405.5,172.9 402.7,172.3 403.2,174 401,174.9 398.1,174.6 396.4,174M402.1,171.2 402.7,172.3M411.2,172.9 411.2,174M414.6,173.1 415.1,174.6 412.9,175.4 411.2,174M418.5,168.3 421.9,168.9 425.3,168.1 428.2,167.8 428.7,166.6M428.2,167.8 428.7,169.5 427,171.7 424.2,173.4 420.8,174 418,172.3M428.7,166.6 429.9,168.3 431,169.2 428.7,169.5M431,169.2 434.4,168.9 437.8,169.2 440.1,171.2 441.8,174 442.3,176.3M437.8,169.2 440.1,170 441.8,172.3 442.3,174M441.8,178.5 438.4,179.1 434.4,179.7 431,179.1 429.3,178 427.6,176.3 427,174 427,171.7M424.2,173.4 427,174M429.3,178 428.7,180.2 427.6,182.5 425.3,182.8 424.2,180.8 423.1,178.5 422.5,176.3 423.1,174.6 420.8,174M415.1,174.6 418.5,174.6 420.8,174M422.5,176.3 419.7,176 418,176.5 419.1,179.1 421.4,181.4 423.1,183.1 424.2,180.8M423.1,183.1 422.5,184.2M428.7,180.2 428.7,182.5 430.4,184.2 433.3,184.4 436.7,184.8 438.9,183.6 441.8,183.1M427.6,182.5 428.7,182.5M430.4,184.2 429.9,186.2 427.6,186.7 426.2,185.3 426.5,183.6 425.3,182.8M424.2,185.9 425.3,184.2 426.5,183.6M427.6,186.7 427,188.7 425.9,190.4M429.9,186.2 433.3,185.9 436.7,184.8M438.9,183.6 439.5,185.3 438.4,187M358.9,222.1 365.9,221.6 392.8,241.1 410.1,230.7 406,226.6 404.3,221.6 405.1,215M347.9,236 356.8,235.5 357.1,230.7 358.6,227.9 359.9,224.7 365,224.7 365.7,221.8M410.1,230.7 417.5,231.8 436.5,239.4 436.5,234.5 438.1,234 438.1,215M438.1,234 465,234M371.3,227.4 372.1,250.5 358.9,251.6 358.1,251.6 353.2,248 348.5,247.2M392.8,241.1 393.1,248 391.1,250.5 386.2,252.1 384.5,253.3M417.5,231.8 418.3,239.8 416.7,247.2 415,252.1 415.9,256.3 410.9,255.4 404.3,255.9 397.7,254.3 392.8,255.4M436.5,239.4 435.7,248 434,253 433.7,257.9 434.8,262 430.7,265.3 425.8,267.8 420.8,270.3 417.5,271.1M415.9,256.3 416.7,260.4 415.9,263.7 417.5,271.1M415.5,262 412.6,267 409.3,271.9 406,274.4 404.3,277.4M390.3,274.1 390.8,267.8 391.9,262.9 392.8,258.2 392.8,255.4 389.5,258.7 388.6,260.9 387.5,262.9 387,267.8 387.5,274.7M385.3,274.7 384.8,267.8 385.3,262 377.9,262.5 377.6,271.1 378.2,277.4M373.3,259.6 376.3,255.4 381.2,253 384.5,253.3 387,256.3 389.5,258.7M385.3,262 388.6,260.9M373.3,259.6 373.8,263.7 377.9,262.5M367.2,278.5 366.4,272.8 367.2,267.8 369.7,264.2 373.8,263.7M354,265.3 357.3,263.7 361.4,264.5 363.9,267.8 366.4,272.8M355.6,268.6 359.8,267.5 361.4,271.1 360.6,273.6 363.9,271.9 366.4,272.8M347.4,257.1 353.2,257.9 358.9,258.2 359.8,254.6 358.1,251.6M347,254.6 354,255.1M358.9,258.2 363.1,259.6 365.5,262 369.7,264.2M358.9,251.6 363.1,253.8 368,256.3 372.1,257.1 373.3,259.6M349,260.4 352.3,259.9 354.8,261.2 354,262.9 351.5,262.9M434.8,262 438.1,265.3 441.4,269.5 444.7,273.6 448.9,276.9M417.5,271.1 418.3,276.9 422.5,278.5 427.4,276.9 434,276.4 440.6,275.7 444.7,276.9 448.9,276.9M417.5,271.1 416.7,276.9 418.3,281 419.2,282.7 415.9,283 409.3,283.5 405.1,283.5M405.1,286.3 409.3,286.8 409.3,283.5M468.8,246.4 467.1,250.5 465.5,253.8 463.8,258.7 460.5,262.9 459.7,264.5M465.5,253.8 469.6,253 473.7,255.4 477.9,259.2M478.2,259.6 476.5,260.9 477.9,262.5 479.5,262M479.5,262 481.2,266.2 484.5,268.6 488.6,270.3 485.3,273.6 481.2,276.9 477,279.4 475.4,280.2 471.3,279.7 467.1,278.5 463,276.9 460.5,275.2M459.7,264.5 458.1,267.8 458.9,271.1 460.5,275.2M435,262.9 439.1,264.5 444.9,263.7 450.6,264.5 454.8,262 456.4,259.2 457.2,262.9 459.7,264.5M475.4,280.2 474.9,286 475.4,292.6 476.2,295M460.5,275.2 461.4,278.5 456.4,279.4 452.3,279.7 446.5,277.7M461.4,278.5 460.5,284.3 459.7,289.3 458.9,292.6M452.3,279.7 451.5,285.1 449.8,290.9 449,295M410.7,302.3 414,301.5 418.2,300.6 420.6,296.5 423.1,291.6 424.4,286.6 424.8,280M408.3,299.8 410.7,297.3 409.9,294.9 414,294 416.5,291.6 415.7,287.4 414.9,283.3 409.9,282.5 409.1,280M405.8,284.1 409.1,284.1 409.1,286.6 405.8,286.6M411.6,304.8 416.5,304.8 420.6,305.1 422.3,308.1 426.4,308.9 429.7,307.2 433,308.1 433.8,316.3 437.1,317.1 441.3,318.3 445.4,318.8 447.9,321.3 449.2,320.4 447.9,317.1 447.5,312.2 449.5,310.5 452.8,310.5M433.8,316.3 433,321.3 432.2,327 433,332 435.5,333.6M410.7,332.5 416.5,332.8 423.1,333.1 430.5,334.1 435.5,333.6 438.8,333.1 440.4,334.5M449.5,296.5 449.2,301.5 450.3,306.4 452.8,310.5 456.1,312.2 457.8,313.8 458.6,318 459.1,322.9 460.7,327 461.4,329.5M457.8,315.5 463.5,318.8 469.3,317.6 472.9,316M460.2,292.4 466.8,296.5 471.8,300.6M449.5,294 452.8,294.5 453.1,300.6 449.8,300.6M449.5,297.3 453.1,297.3M449.5,294 450.3,289.9 452.8,286.6 455.3,283.3 456.9,280M459.7,293.2 460.2,292.4M440.4,334.5 443.7,331.2 447.9,328.7 452,327 456.1,325.4 458.6,326.2M440.4,334.5 444.6,329.5 450.3,327.9 455.3,329.5 456.1,334.5 454.5,339.4 452,343.5 447.9,344.4 443.7,341.9 441.3,337.8 440.4,334.5M456.1,325.4 456.9,321.3 457.8,318M455.3,329.5 458.6,328.7 460.2,331.2M430.5,334.1 430.2,349.3M419.5,360.1 422.3,361.4 425.6,360.6 426.7,356.5 426.4,351.5 427.2,349 430.2,349M427.2,349 428.9,355.6 432.2,353.2 437.1,351.5 441.3,349 444.6,346.2 447.9,344.6 452,344.1 452.8,349 453.1,353.2M474.8,170 474.5,165.9 476.5,162.6 480.6,160.6 485.5,161 490.5,162.6 495.4,161.8 499.6,162.6 501.5,161.8 500.4,159.3 498.2,157.7 499.2,155.2 504.5,153.5 510.3,152.4 512.8,151.9 516.1,153.5 520.2,155.2 522.7,156 526,154.4 530.1,157.7 534.2,160.1 537.5,162.6 542.5,162.6 546.6,164.3 550.7,165.9 554,167.2 559,164.3 563.9,163.4 568.9,163.4 571.3,161 575.5,160.6 580.4,161.8 585,163.4M474.8,165.7 475.6,169 478.1,171.5 479.8,173.5M493.8,185.5 495.9,184.7 495.4,177.3 498.7,175.6 503.7,177.3 507.8,179.8 511.9,180.6 516.1,181.4 518.5,184.7 521.8,186.4 525.1,183.9 528.4,182.2 532.6,181.4 538.3,181.7 544.1,182.2 546.1,183.1 544.9,178.1 547.4,174 550.7,170.7 552.7,167.4M495.9,184.7 501.2,183.4 504.5,185.5 509.5,188.8 514.4,191.3 518.5,193.8 521,195.4M494.3,197.1 498.7,194.6 503.7,195.4 508.6,197.6 513.6,199.6 518.5,198.2 521,195.4 526,195.9 534.2,195.4 538.3,193.8 544.9,194.6M526,188.8 530.9,187.2 535.9,188 540.8,185.5 546.1,183.1M521.8,186.4 522.7,188.8 526,188.8 521.8,190.5 526,195.9M526,188.8 530.9,189.7 535.9,191.3 538.3,193.8 535.9,188M544.9,194.6 537.5,197.1 533.4,200.4 532.6,204.5 530.1,208.6 527.6,211.9 522.7,214.1 516.1,215.2 513.1,214.4 513.1,209.5 511.9,204.5 513.6,199.6M513.1,214.4 516.9,218.5 518.5,222.7 516.9,226M544.9,194.6 544.9,198.7 542.5,202.9 539.2,204.5 540.8,208.6 542.5,211.9 539.2,216.1 535.9,220.2 535,224.3 537.5,227.6 534.2,228.4 531.7,227.6M552.7,167.4 557.3,169.9 561.4,171.5 563.9,174.8 568.9,177.3 573.8,179.8 577.9,182.2 582.1,183.1 585,182.7M584.9,182.7 590.7,184.4 596.5,185 602.2,183.1 606.4,180.6 607.2,177.3 610.5,175.6 614.6,174 618.7,172.3 615.4,170.7 612.1,169.5 608.8,168.2 608,165.7 606.4,164.9 601.4,166.2 596.5,166.9 590.7,165.7 584.9,164.4M608,165.7 610.5,160.8 610,157.5 613.8,156.3 618.7,157 622.9,160 627,163.3 631.9,165.7 637.7,167.4 642.7,169 646,169.5M646.8,170 647.3,172.8 647.7,175.6 645.9,176.5 645.4,178.8 646.5,180.7 647.3,182.5 648,183M647.3,182.5 645.4,182.5 643.6,183.9 641.7,184.8 640.3,186.7 638.9,188.1 637.1,189.5M644,194.9 645.9,193.9 647.7,193.2M577.8,234.5 575.6,230.7 574.8,225.7 578.1,224.1 581.4,224.9 582.2,229 584.4,229.9 583.4,233.2M583.2,231.4 584.3,228.1 585.9,224.8 587,221.6 588.7,218.8 590.3,217.2 592.5,217.7 595.2,219.9 596.3,222.6 594.7,225.9 595.2,228.7 597.4,230.3 599.6,232.5 601.2,234.7 602.8,235.7M602.8,235.7 601.8,237.4 599.6,239 597.4,240.7 596.8,243.4 597.9,246.1 599.2,248.9 599.9,252.1 600.7,255.4 601.2,258.7 601.8,262 601.2,264.7M602.8,235.7 603.9,234.7 605,233 606.7,232.5 608.3,233.6 609.9,231.9 612.1,231.2 614.3,231.9 616,234.1 617,236.3M608.3,233.6 609.4,236.3 611,238.5 610.5,240.7 612.1,242.8 614.3,245 616,247.8 617.6,250.5 618.5,253.2 615.4,253.2M603.9,234.7 602.8,236.8 603.9,239 604.5,241.8 603.6,243.9 605,245 607.2,244.5 609.4,243.4 611.6,245 613.2,247.8 614.5,251 615.4,253.2 612.7,253.4 610.5,254.5 609.4,257 609.7,259.8M618.5,253.2 619.8,256 619.2,258.7 617,260.3 616,262.5 614.9,263.9M604.5,269.5 607.8,271.1M459.2,197.4 462.9,197.4 467.2,196.7 470.9,196.4 474,196.1 476.5,195.5 475.9,192.4 475.2,189.9 474,188.1M474,196.1 472.4,199.2 470.3,202.3 467.8,204.8 465.3,206.6 462.3,208.5 459.8,207.9 460,211 459.2,214.1 458.5,216.5M459.8,202.3 461,203.5 460.4,205.4 459.5,205.8M457.3,212.2 458.5,216.5 461.6,215.3 464.1,213.7 462.3,211.2 466.6,209.1 465.3,206.6M466.6,209.1 470.3,210.3 475.2,212.8 479.6,215.3 483.3,215.9 484.8,214.4 486.4,214.7M483.3,215.9 485.7,216.5 486.7,215.9M476.5,195.5 478.3,198.6 480.2,201.7 479.6,204.2 482,207.3 484.5,210.3 486,212.8 487,214.4M474.6,244.1 479.6,243.1 484.5,243.7 489.5,242.5 494.4,241.3 498.1,240.6 502.4,238.2 504.3,233.8 503.1,231.4 497.5,230.7 495.6,228.3M503.1,231.4 504,228.3 504.9,226.4M498.1,240.6 499.1,243.1 500,245M468.4,185 470.7,183.7 474,184.3 476.7,185.5 479.1,186.9 481.8,186.9M468.4,185 470.7,186 473,186.9 474.9,187.4 477.2,186.4 479.1,186.9M474.9,187.4 476.3,189.2 478.1,190.6 479.5,191.1 478.6,189.2 477.2,187.8M474.9,187.4 475.8,189.7 476.3,192 475.8,194.8M479.5,191.1 481.4,190.6 483.2,192 485.6,191.1M402.7,196.7 400.7,200.3 400.4,203.1 402.4,207.8 404.7,210.7 404.7,215M407.7,206.9 406,209.7 404.7,210.7M379.6,199.5 381.3,204.5 380.4,208.6 375.5,211.9 369.7,214.4 366.4,217.7 365.7,221.3M437.7,209.1 438,215M181.7,251.7 183.1,249.8 185,248 185.9,246.1 187.3,245.4 189.2,245 191.9,244.3 191.7,248.5M191.5,248.5 190.1,250.3 188.7,252.2 187.8,253.6 188.2,254.9M188.7,253.1 190.6,254 192.9,254.9 193.3,256.8 195.2,254.9 197.5,253.1 199.8,252.2 202.6,252.2M196.3,262.8 198.4,262.4 201.2,262.1M203.5,265.1 203.1,267 202.6,267.9M214.2,268.4 212.8,269.8 213.3,270.7M544.7,200.3 547.8,202.8 549.6,205.9 550.2,208.9 552.7,211.4 554.6,214.3 556.4,213.5 560.7,215.1 565.7,217.6 570,218.8 573.1,219.7 573.1,222.6 569.4,222.6 564.5,220.9 559.5,219.5 555.8,217.6 554.6,214.3M573.1,219.7 575,219.5 578.1,218.8 581.2,219.5 581.2,221.3 578.1,221.9 575,221.7 574.6,219.7M581.2,219.5 583.6,217.6 586.1,216 589.2,215.5 591.7,217 594.1,218.5M573.1,222.6 574.4,223.2M544.9,194.6 544.7,200.3" fill="none" stroke="#484b50" stroke-width="0.65" stroke-linejoin="round"/>
<circle cx="217.6" cy="227.8" r="0.48" fill="#e8ecf3" stroke="#6a6d72" stroke-width="0.35"/>
<circle cx="222.2" cy="230.3" r="0.48" fill="#e8ecf3" stroke="#6a6d72" stroke-width="0.35"/>
<circle cx="225.5" cy="232.8" r="0.48" fill="#e8ecf3" stroke="#6a6d72" stroke-width="0.35"/>
<circle cx="228" cy="234.4" r="0.48" fill="#e8ecf3" stroke="#6a6d72" stroke-width="0.35"/>
<circle cx="248.1" cy="208.2" r="0.4" fill="#e8ecf3" stroke="#6a6d72" stroke-width="0.35"/>
<circle cx="372.5" cy="136.6" r="0.48" fill="#e8ecf3" stroke="#6a6d72" stroke-width="0.35"/>
<circle cx="347.4" cy="218" r="0.48" fill="#e8ecf3" stroke="#6a6d72" stroke-width="0.35"/>
<circle cx="349.6" cy="218.6" r="0.48" fill="#e8ecf3" stroke="#6a6d72" stroke-width="0.35"/>
<circle cx="351.9" cy="217.7" r="0.48" fill="#e8ecf3" stroke="#6a6d72" stroke-width="0.35"/>
<circle cx="354.5" cy="217.3" r="0.48" fill="#e8ecf3" stroke="#6a6d72" stroke-width="0.35"/>
<circle cx="355.7" cy="216.7" r="0.48" fill="#e8ecf3" stroke="#6a6d72" stroke-width="0.35"/>
<circle cx="725.3" cy="302.8" r="0.48" fill="#e8ecf3" stroke="#6a6d72" stroke-width="0.35"/>
<circle cx="727.8" cy="304.7" r="0.48" fill="#e8ecf3" stroke="#6a6d72" stroke-width="0.35"/>
<circle cx="730.2" cy="307.2" r="0.48" fill="#e8ecf3" stroke="#6a6d72" stroke-width="0.35"/>
<circle cx="733.3" cy="309" r="0.48" fill="#e8ecf3" stroke="#6a6d72" stroke-width="0.35"/>
<circle cx="736.4" cy="311.2" r="0.48" fill="#e8ecf3" stroke="#6a6d72" stroke-width="0.35"/>
<circle cx="739.5" cy="313.3" r="0.48" fill="#e8ecf3" stroke="#6a6d72" stroke-width="0.35"/>
<circle cx="736.4" cy="316.4" r="0.48" fill="#e8ecf3" stroke="#6a6d72" stroke-width="0.35"/>
<circle cx="749.4" cy="317.1" r="0.48" fill="#e8ecf3" stroke="#6a6d72" stroke-width="0.35"/>
<circle cx="750.4" cy="322.6" r="0.48" fill="#e8ecf3" stroke="#6a6d72" stroke-width="0.35"/>
<circle cx="751.3" cy="327.3" r="0.48" fill="#e8ecf3" stroke="#6a6d72" stroke-width="0.35"/>
<circle cx="751.9" cy="331.9" r="0.48" fill="#e8ecf3" stroke="#6a6d72" stroke-width="0.35"/>
<circle cx="752.5" cy="336.6" r="0.48" fill="#e8ecf3" stroke="#6a6d72" stroke-width="0.35"/>
<circle cx="480" cy="318.8" r="0.4" fill="#e8ecf3" stroke="#6a6d72" stroke-width="0.35"/>
<circle cx="482.5" cy="320.4" r="0.4" fill="#e8ecf3" stroke="#6a6d72" stroke-width="0.35"/>
<circle cx="486.6" cy="313" r="0.4" fill="#e8ecf3" stroke="#6a6d72" stroke-width="0.35"/>
<circle cx="506.9" cy="301.1" r="0.4" fill="#e8ecf3" stroke="#6a6d72" stroke-width="0.35"/>
<circle cx="504.8" cy="342.4" r="0.4" fill="#e8ecf3" stroke="#6a6d72" stroke-width="0.35"/>
<circle cx="509.2" cy="340.2" r="0.4" fill="#e8ecf3" stroke="#6a6d72" stroke-width="0.35"/>
<circle cx="522.4" cy="338.6" r="0.4" fill="#e8ecf3" stroke="#6a6d72" stroke-width="0.35"/>
<circle cx="39" cy="234.2" r="0.4" fill="#e8ecf3" stroke="#6a6d72" stroke-width="0.35"/>
<circle cx="42.8" cy="236.1" r="0.4" fill="#e8ecf3" stroke="#6a6d72" stroke-width="0.35"/>
<circle cx="44.6" cy="237.9" r="0.4" fill="#e8ecf3" stroke="#6a6d72" stroke-width="0.35"/>
<circle cx="46.5" cy="240.1" r="0.8" fill="#e8ecf3" stroke="#6a6d72" stroke-width="0.35"/>
<circle cx="76.2" cy="311.5" r="0.4" fill="#e8ecf3" stroke="#6a6d72" stroke-width="0.35"/>
<circle cx="78.8" cy="314.5" r="0.4" fill="#e8ecf3" stroke="#6a6d72" stroke-width="0.35"/>
<circle cx="6.7" cy="323.4" r="0.4" fill="#e8ecf3" stroke="#6a6d72" stroke-width="0.35"/>
<circle cx="10.4" cy="324.9" r="0.4" fill="#e8ecf3" stroke="#6a6d72" stroke-width="0.35"/>
<circle cx="53.9" cy="331.2" r="0.4" fill="#e8ecf3" stroke="#6a6d72" stroke-width="0.35"/>
<circle cx="58.7" cy="333.8" r="0.4" fill="#e8ecf3" stroke="#6a6d72" stroke-width="0.35"/>
<circle cx="4.5" cy="336.8" r="0.4" fill="#e8ecf3" stroke="#6a6d72" stroke-width="0.35"/>
<circle cx="4.5" cy="342" r="0.4" fill="#e8ecf3" stroke="#6a6d72" stroke-width="0.35"/>
<circle cx="77.3" cy="333.8" r="0.4" fill="#e8ecf3" stroke="#6a6d72" stroke-width="0.35"/>
<circle cx="76.2" cy="359.1" r="0.4" fill="#e8ecf3" stroke="#6a6d72" stroke-width="0.35"/><!--/MAP--></svg>
<div id="title">Chile Online Bus <span style="letter-spacing:0.36px">Ticketing</span> Market <span style="letter-spacing:-0.22px">Revenue</span> <span style="letter-spacing:-0.22px">Share,</span> 2024</div>
<div id="src"><b>Source</b>: Straits Research Analysis Company Publications, Primary Interviews.</div>
<div id="botline" style="position:absolute;left:0;top:484px;width:786px;height:1px;background:#f4f4f4"></div>
</div>
<div id="panel">
<div id="big">0.38%</div>
<div id="hr"></div>
<div id="desc"><span style="letter-spacing:0.125px">Chile Online Bus</span><br><span style="letter-spacing:0.45px">Ticketing</span> <span style="letter-spacing:0.25px">Market</span><br>Revenue Share, 2024</div>
</div>
<svg id="logo" width="1038" height="485" viewBox="0 0 1038 485">
<polygon points="863.2,348.4 887.7,360.5 875.6,366.5 863.2,360.5" fill="#001a4d"/>
<polygon points="863.2,372.9 887.7,360.5 894.1,360.5 894.1,372.7 887.7,372.7 863.2,385" fill="#00c8ff"/>
<text x="898.3" y="372.7" font-family="Liberation Serif" font-size="24.5" textLength="52.8" lengthAdjust="spacingAndGlyphs" fill="#050505" stroke="#050505" stroke-width="0.25">straits</text>
<text x="918" y="382.7" font-family="Liberation Serif" font-size="9.6" letter-spacing="1.05" fill="#050505" stroke="#050505" stroke-width="0.15">research</text>
</svg>
</body></html>
